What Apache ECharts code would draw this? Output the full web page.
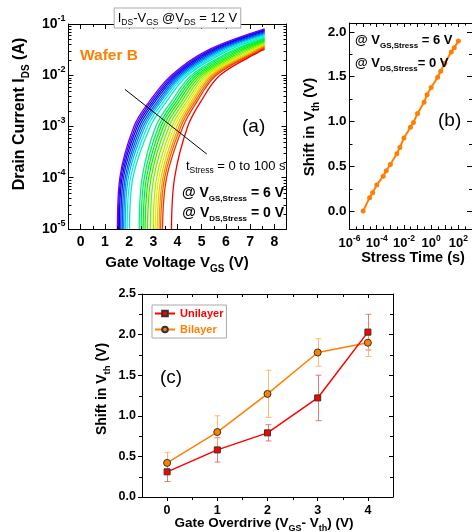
<!DOCTYPE html>
<html><head><meta charset="utf-8">
<script src="https://cdn.jsdelivr.net/npm/echarts@6/dist/echarts.min.js"></script>
<style>html,body{margin:0;padding:0;background:#fff}#c{width:472px;height:532px}</style>
</head><body><div id="c"></div>
<script>
// ---------------- Panel (a): transfer curves (gate voltage where each curve reaches a current level)
const vAt1e5 = [1.52,1.56,1.60,1.66,1.72,1.78,1.84,1.92,2.02,2.42,2.50,2.58,2.66,2.76,2.88,3.00,3.08,3.16,3.24,3.30,3.38,3.75];
const vAt1e4 = [1.62,1.66,1.71,1.77,1.84,1.90,1.97,2.06,2.16,2.54,2.63,2.72,2.81,2.91,3.02,3.14,3.23,3.32,3.40,3.47,3.55,3.88];
const vAt1e3 = [2.20,2.27,2.34,2.42,2.50,2.58,2.66,2.76,2.88,3.10,3.22,3.32,3.42,3.53,3.65,3.77,3.87,3.97,4.06,4.14,4.23,4.42];
const vAt3e3 = [2.82,2.90,2.98,3.06,3.15,3.23,3.31,3.41,3.53,3.73,3.84,3.94,4.04,4.15,4.26,4.37,4.46,4.55,4.63,4.71,4.79,4.95];
const vAt1e2 = [3.75,3.83,3.91,3.99,4.07,4.15,4.23,4.32,4.42,4.58,4.68,4.78,4.88,4.98,5.08,5.18,5.27,5.36,5.44,5.52,5.60,5.75];
const vAt3e2 = [5.20,5.30,5.40,5.50,5.60,5.70,5.82,5.94,6.06,6.24,6.36,6.48,6.60,6.72,6.84,6.96,7.06,7.14,7.22,7.30,7.38,7.45];
const vSweepEnd = 7.6;
const iAtEnd = [0.080,0.077,0.074,0.071,0.068,0.065,0.062,0.059,0.056,0.053,0.051,0.049,0.047,0.045,0.043,0.041,0.039,0.038,0.037,0.036,0.034,0.032];
const currentLevels = [1e-5,1e-4,1e-3,3e-3,1e-2,3e-2];
const vgsTicks = [0,1,2,3,4,5,6,7,8];
const vgsMinorTicks = [0.5,1.5,2.5,3.5,4.5,5.5,6.5,7.5];
const idsTicks = [1e-5,1e-4,1e-3,1e-2,1e-1];
const idsMinorTicks = [2e-5,3e-5,4e-5,5e-5,6e-5,7e-5,8e-5,9e-5,2e-4,3e-4,4e-4,5e-4,6e-4,7e-4,8e-4,9e-4,2e-3,3e-3,4e-3,5e-3,6e-3,7e-3,8e-3,9e-3,2e-2,3e-2,4e-2,5e-2,6e-2,7e-2,8e-2,9e-2];
const arrowFrom = [1.83, 5.3e-3];
const arrowTo = [5.21, 2.9e-4];

// ---------------- Panel (b): Vth shift vs stress time
const stressTimes = [1e-5,3e-5,5e-5,1e-4,3e-4,5e-4,1e-3,3e-3,5e-3,1e-2,3e-2,5e-2,1e-1,3e-1,5e-1,1,3,5,10,30,50,100];
const vthShift = [0.00,0.15,0.205,0.29,0.39,0.45,0.52,0.64,0.71,0.815,0.935,0.99,1.09,1.215,1.30,1.38,1.495,1.56,1.65,1.775,1.825,1.90];
const timeLabelTicks = [1e-6,1e-4,1e-2,1,1e2];
const timeTicks = [1e-6,1e-5,1e-4,1e-3,1e-2,1e-1,1,10,100,1000];
const timeMinorTicks = [3e-6,3e-5,3e-4,3e-3,3e-2,3e-1,3,30,300];
const shiftTicksB = [0,0.5,1,1.5,2];
const shiftMinorB = [0.25,0.75,1.25,1.75];

// ---------------- Panel (c): Vth shift vs gate overdrive
const overdrive = [0,1,2,3,4];
const uniShift = [0.31,0.58,0.79,1.22,2.03];
const uniErr = [0.12,0.15,0.10,0.28,0.22];
const biShift = [0.42,0.80,1.27,1.78,1.90];
const biErr = [0.13,0.20,0.29,0.17,0.17];
const overdriveTicks = [0,1,2,3,4];
const overdriveMinor = [0.5,1.5,2.5,3.5];
const shiftTicksC = [0,0.5,1,1.5,2,2.5];
const shiftMinorC = [0.25,0.75,1.25,1.75,2.25];

// ---------------- styling helpers
const FF = '"Liberation Sans", Arial, Helvetica, sans-serif';
const ORANGE = '#ff8000', RED = '#ff0000';

function richSet(size, subSize, weight, color) {
  const mk = (fs, lh, va) => ({fontSize: fs, fontWeight: weight, fontFamily: FF, fill: color, color: color, lineHeight: lh, verticalAlign: va});
  return {
    n: mk(size, Math.round(size * 1.45), 'middle'),
    sub: mk(subSize, Math.round(subSize * 1.3), 'bottom'),
    sup: mk(subSize, Math.round(subSize * 1.3), 'top')
  };
}
function txt(x, y, text, rich, opt) {
  opt = opt || {};
  const style = Object.assign({
    text: text, rich: rich, fill: '#000', font: 'bold 14px ' + FF,
    align: opt.align || 'left', verticalAlign: 'middle',
    textAlign: opt.align || 'left', textVerticalAlign: 'middle'
  }, opt.box || {});
  return {type: 'text', x: x, y: y, rotation: opt.rot || 0, z: 100, silent: true, style: style};
}
const logFmt = v => { const e = Math.round(Math.log10(v)); return '{b|10}{s|' + e + '}'; };

const xAxes = [], yAxes = [];
function addAxes(list, grid, type, min, max, pos, mirrorPos, major, o) {
  const base = {type: type, gridIndex: grid, min: min, max: max, splitLine: {show: false}, axisPointer: {show: false}};
  if (type === 'log') base.logBase = 10;
  const line = {show: true, onZero: false, lineStyle: {color: '#000', width: 1}};
  const tk = (vals, len, inside) => ({show: true, inside: inside, length: len, customValues: vals, lineStyle: {color: '#000', width: 1}});
  const idx = list.length;
  list.push(Object.assign({}, base, {
    position: pos, axisLine: line, axisTick: tk(o.tickValues || major, o.majorLen, o.inside),
    axisLabel: {show: true, customValues: o.labelValues || major, margin: o.margin, formatter: o.formatter,
      rich: o.rich, color: '#000', fontFamily: FF, fontWeight: 'bold', fontSize: o.fontSize}
  }));
  list.push(Object.assign({}, base, {position: mirrorPos, axisLine: line, axisTick: tk(o.tickValues || major, o.majorLen, true), axisLabel: {show: false}}));
  return idx;
}

const logRich14 = {b: {fontSize: 14, fontWeight: 'bold', fontFamily: FF, color: '#000', lineHeight: 20, verticalAlign: 'middle'},
                   s: {fontSize: 9, fontWeight: 'bold', fontFamily: FF, color: '#000', lineHeight: 11, verticalAlign: 'top'}};
const logRich13 = {b: {fontSize: 13, fontWeight: 'bold', fontFamily: FF, color: '#000', lineHeight: 19, verticalAlign: 'middle'},
                   s: {fontSize: 8.5, fontWeight: 'bold', fontFamily: FF, color: '#000', lineHeight: 11, verticalAlign: 'top'}};

// Panel a axes
const ax = addAxes(xAxes, 0, 'value', -0.5, 8.5, 'bottom', 'top', vgsTicks,
  {majorLen: 5, inside: true, margin: 6, fontSize: 14});
const ay = addAxes(yAxes, 0, 'log', 1e-5, 1e-1, 'left', 'right', idsTicks,
  {majorLen: 5, inside: true, margin: 3, formatter: logFmt, rich: logRich14, fontSize: 14});
// Panel b axes
const bx = addAxes(xAxes, 1, 'log', 1e-6, 1e3, 'bottom', 'top', timeTicks,
  {majorLen: 4, inside: true, margin: 5, labelValues: timeLabelTicks, formatter: logFmt, rich: logRich13, fontSize: 13});
const by = addAxes(yAxes, 1, 'value', -0.2, 2.1, 'left', 'right', shiftTicksB,
  {majorLen: 5, inside: true, margin: 3, fontSize: 13.5, formatter: v => v.toFixed(1)});
// Panel c axes
const cx = addAxes(xAxes, 2, 'value', -0.5, 4.5, 'bottom', 'top', overdriveTicks,
  {majorLen: 4, inside: false, margin: 7, fontSize: 12.5});
const cy = addAxes(yAxes, 2, 'value', 0, 2.5, 'left', 'right', shiftTicksC,
  {majorLen: 4, inside: false, margin: 6, fontSize: 12.5, formatter: v => v.toFixed(1)});

// minor ticks drawn through the axes' own scales (custom series)
function minorTicks(xi, yi, vals, dim, ref, len, outside) {
  return {type: 'custom', xAxisIndex: xi, yAxisIndex: yi, silent: true, z: 5, clip: false,
    data: vals.map(v => dim === 'x' ? [v, ref] : [ref, v]), encode: {x: 0, y: 1},
    renderItem: function (params, api) {
      const cs = params.coordSys;
      const p = api.coord([api.value(0), api.value(1)]);
      const st = {stroke: '#000', lineWidth: 1};
      if (dim === 'x') {
        const x = Math.round(p[0]) + 0.5, yb = cs.y + cs.height, yt = cs.y;
        return {type: 'group', children: [
          {type: 'line', shape: {x1: x, y1: yb, x2: x, y2: yb + (outside ? len : -len)}, style: st},
          {type: 'line', shape: {x1: x, y1: yt, x2: x, y2: yt + len}, style: st}]};
      }
      const y = Math.round(p[1]) + 0.5, xl = cs.x, xr = cs.x + cs.width;
      return {type: 'group', children: [
        {type: 'line', shape: {x1: xl, y1: y, x2: xl + (outside ? -len : len), y2: y}, style: st},
        {type: 'line', shape: {x1: xr, y1: y, x2: xr - len, y2: y}, style: st}]};
    }};
}

// Panel a series
const series = [];
const nCurves = vAt1e5.length;
for (let i = 0; i < nCurves; i++) {
  const vs = [vAt1e5[i], vAt1e4[i], vAt1e3[i], vAt3e3[i], vAt1e2[i], vAt3e2[i]];
  const pts = vs.map((v, k) => [v, currentLevels[k]]);
  pts.push([vSweepEnd, iAtEnd[i]]);
  const hue = 270 - i * 270 / (nCurves - 1);
  const s = {type: 'line', name: 'curve' + i, xAxisIndex: ax, yAxisIndex: ay, data: pts, smooth: 0.35,
    showSymbol: false, symbol: 'none', silent: true, z: 2,
    lineStyle: {width: 1.3, color: 'hsl(' + hue.toFixed(0) + ',100%,47%)'}};
  if (i === 0) {
    s.markLine = {silent: true, symbol: ['none', 'arrow'], symbolSize: [0, 8], label: {show: false},
      lineStyle: {color: '#000', width: 1, type: 'solid'}, itemStyle: {color: '#000'},
      data: [[{coord: arrowFrom}, {coord: arrowTo}]], z: 10, animation: false};
  }
  series.push(s);
}
series.push(minorTicks(ax, ay, vgsMinorTicks, 'x', 1e-5, 3, false));
series.push(minorTicks(ax, ay, idsMinorTicks, 'y', -0.5, 3, false));
// Panel b series
series.push({type: 'line', name: 'shift', xAxisIndex: bx, yAxisIndex: by,
  data: stressTimes.map((t, i) => [t, vthShift[i]]), symbol: 'circle', symbolSize: 5, showAllSymbol: true,
  lineStyle: {color: ORANGE, width: 2}, itemStyle: {color: ORANGE}, silent: true});
series.push(minorTicks(bx, by, timeMinorTicks, 'x', -0.2, 2.5, false));
series.push(minorTicks(bx, by, shiftMinorB, 'y', 1e-6, 3, false));
// Panel c series
function errRender(color) {
  return function (params, api) {
    const x = api.value(0), y = api.value(1), e = api.value(2);
    const hi = api.coord([x, y + e]), lo = api.coord([x, y - e]);
    const w = 3, st = {stroke: color, lineWidth: 1};
    const xx = Math.round(hi[0]) + 0.5;
    return {type: 'group', children: [
      {type: 'line', shape: {x1: xx, y1: hi[1], x2: xx, y2: lo[1]}, style: st},
      {type: 'line', shape: {x1: xx - w, y1: hi[1], x2: xx + w, y2: hi[1]}, style: st},
      {type: 'line', shape: {x1: xx - w, y1: lo[1], x2: xx + w, y2: lo[1]}, style: st}
    ]};
  };
}
series.push({type: 'custom', name: 'uniErr', xAxisIndex: cx, yAxisIndex: cy, z: 1, silent: true,
  data: overdrive.map((x, i) => [x, uniShift[i], uniErr[i]]), encode: {x: 0, y: 1}, renderItem: errRender('rgba(220,80,80,0.75)')});
series.push({type: 'custom', name: 'biErr', xAxisIndex: cx, yAxisIndex: cy, z: 1, silent: true,
  data: overdrive.map((x, i) => [x, biShift[i], biErr[i]]), encode: {x: 0, y: 1}, renderItem: errRender('rgba(255,170,80,0.8)')});
series.push({type: 'line', name: 'Bilayer', xAxisIndex: cx, yAxisIndex: cy, z: 3,
  data: overdrive.map((x, i) => [x, biShift[i]]), symbol: 'circle', symbolSize: 7,
  lineStyle: {color: ORANGE, width: 1.5}, itemStyle: {color: ORANGE, borderColor: '#333', borderWidth: 1}});
series.push({type: 'line', name: 'Unilayer', xAxisIndex: cx, yAxisIndex: cy, z: 4,
  data: overdrive.map((x, i) => [x, uniShift[i]]), symbol: 'rect', symbolSize: 6,
  lineStyle: {color: RED, width: 1.5}, itemStyle: {color: RED, borderColor: '#333', borderWidth: 1}});
series.push(minorTicks(cx, cy, overdriveMinor, 'x', 0, 3, true));
series.push(minorTicks(cx, cy, shiftMinorC, 'y', -0.5, 3, true));

// Texts
const r16 = richSet(16, 10, 'bold', '#000');
const r15 = richSet(15, 10, 'bold', '#000');
const r14 = richSet(14, 9.5, 'bold', '#000');
const r13n = richSet(13, 8.5, 'normal', '#000');
const r14b = richSet(14, 8, 'bold', '#000');
const r13b = richSet(13, 8, 'bold', '#000');
const rBig = richSet(19, 12, 'normal', '#000');
const rOr = richSet(15.5, 10, 'bold', ORANGE);

const graphics = [
  txt(177.5, 18, '{n|I}{sub|DS}{n|-V}{sub|GS}{n| @V}{sub|DS}{n| = 12 V}', r13n,
    {align: 'center', box: {backgroundColor: '#fff', borderColor: '#aaa', borderWidth: 1, padding: [0, 3, 0, 3]}}),
  txt(20, 114, '{n|Drain Current I}{sub|DS}{n| (A)}', r16, {align: 'center', rot: Math.PI / 2}),
  txt(177, 263, '{n|Gate Voltage V}{sub|GS}{n| (V)}', r15, {align: 'center'}),
  txt(80, 56, '{n|Wafer B}', rOr),
  txt(242, 127, '{n|(a)}', rBig),
  txt(186, 166, '{n|t}{sub|Stress}{n| = 0 to 100 s}', r13n),
  txt(284, 193, '{n|@ V}{sub|GS,Stress}{n| = 6 V}', r14b, {align: 'right'}),
  txt(284, 213, '{n|@ V}{sub|DS,Stress}{n| = 0 V}', r14b, {align: 'right'}),
  txt(310, 127, '{n|Shift in V}{sub|th}{n| (V)}', r15, {align: 'center', rot: Math.PI / 2}),
  txt(413, 258, '{n|Stress Time (s)}', richSet(14.5, 9, 'bold', '#000'), {align: 'center'}),
  txt(355, 40, '{n|@ V}{sub|GS,Stress}{n| = 6 V}', r13b),
  txt(355, 63, '{n|@ V}{sub|DS,Stress}{n|= 0 V}', r13b),
  txt(438, 121, '{n|(b)}', rBig),
  txt(102, 389, '{n|Shift in V}{sub|th}{n| (V)}', r14, {align: 'center', rot: Math.PI / 2}),
  txt(264, 523, '{n|Gate Overdrive (V}{sub|GS}{n|- V}{sub|th}{n|) (V)}', richSet(13.5, 9, 'bold', '#000'), {align: 'center'}),
  txt(160, 378, '{n|(c)}', rBig)
];

const chart = echarts.init(document.getElementById('c'), null, {renderer: 'canvas'});
chart.setOption({
  animation: false,
  backgroundColor: '#fff',
  grid: [
    {left: 68.5, top: 24, width: 218, height: 205},
    {left: 349.5, top: 23, width: 127.3, height: 206},
    {left: 142, top: 294, width: 251, height: 203}
  ],
  xAxis: xAxes,
  yAxis: yAxes,
  legend: {
    data: [{name: 'Unilayer', textStyle: {color: RED}}, {name: 'Bilayer', textStyle: {color: ORANGE}}],
    orient: 'vertical', left: 152, top: 305, itemWidth: 20, itemHeight: 7, itemGap: 5,
    borderColor: '#aaa', borderWidth: 1, padding: [3, 3, 3, 2], backgroundColor: '#fff',
    textStyle: {fontFamily: FF, fontWeight: 'bold', fontSize: 11}, selectedMode: false
  },
  series: series,
  graphic: graphics
});
</script></body></html>
